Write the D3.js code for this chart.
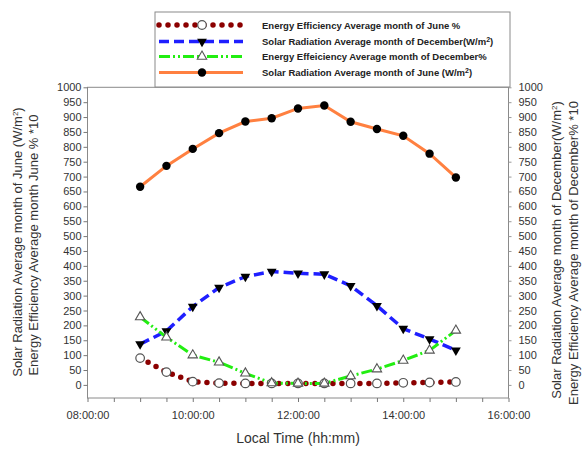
<!DOCTYPE html>
<html>
<head>
<meta charset="utf-8">
<script src="https://cdn.jsdelivr.net/npm/d3@7"></script>
<style>
  body { margin: 0; background: #fff; }
  svg { font-family: "Liberation Sans", Arial, sans-serif; }
</style>
</head>
<body>
<svg id="chart" width="582" height="450"></svg>
<script>
// sample times (hours)
var times = ["09:00", "09:30", "10:00", "10:30", "11:00", "11:30", "12:00",
             "12:30", "13:00", "13:30", "14:00", "14:30", "15:00"];
var effJune = [90, 43, 11, 6, 5, 5, 5, 5, 5, 5, 7, 8, 10];
var radDec = [137, 181, 263, 327, 364, 381, 375, 372, 333, 266, 189, 154, 116];
var effDec = [228, 160, 100, 76, 39, 6, 5, 5, 30, 53, 82, 116, 183];
var radJune = [666, 736, 793, 846, 885, 896, 929, 939, 884, 860, 837, 777, 697];
var yTicks = d3.range(0, 1001, 50);
var xMajor = [8, 10, 12, 14, 16];

var svg = d3.select('#chart');
var hours = times.map(function (t) { var p = t.split(':'); return +p[0] + p[1] / 60; });

var x = d3.scaleLinear().domain([8, 16]).range([87.5, 508.5]);
var y = d3.scaleLinear().domain([-44, 1000]).range([398, 87.3]);

var fmt = function (h) { return (h < 10 ? '0' : '') + h + ':00:00'; };

// frame
svg.append('rect')
    .attr('x', x(8)).attr('y', y(1000))
    .attr('width', x(16) - x(8)).attr('height', y(-44) - y(1000))
    .attr('fill', 'none').attr('stroke', '#8a8a8a').attr('stroke-width', 1);

// x axis: minor ticks every 30 min, labels every 2 h
var xAxis = svg.append('g').attr('transform', 'translate(0,' + y(-44) + ')');
xAxis.call(d3.axisBottom(x).tickValues(d3.range(8, 16.01, 0.5)).tickSize(4)
    .tickFormat(function (d) { return xMajor.indexOf(d) >= 0 ? fmt(d) : ''; }));
xAxis.select('.domain').remove();
xAxis.selectAll('line').attr('stroke', '#777');
xAxis.selectAll('text').attr('font-size', 11).attr('fill', '#333').attr('dy', '1.25em')
    .attr('font-family', '"Liberation Sans", Arial, sans-serif');

// left axis
var yl = svg.append('g').attr('transform', 'translate(' + x(8) + ',0)');
yl.call(d3.axisLeft(y).tickValues(yTicks).tickSize(4).tickPadding(2).tickFormat(d3.format('d')));
yl.select('.domain').remove();
yl.selectAll('line').attr('stroke', '#777');
yl.selectAll('text').attr('font-size', 11).attr('fill', '#333')
    .attr('font-family', '"Liberation Sans", Arial, sans-serif');

// right axis
var yr = svg.append('g').attr('transform', 'translate(' + x(16) + ',0)');
yr.call(d3.axisRight(y).tickValues(yTicks).tickSize(3).tickPadding(7).tickFormat(d3.format('d')));
yr.select('.domain').remove();
yr.selectAll('line').attr('stroke', '#999');
yr.selectAll('text').attr('font-size', 11).attr('fill', '#333')
    .attr('font-family', '"Liberation Sans", Arial, sans-serif');

// axis titles
svg.append('text')
    .attr('x', x(12)).attr('y', 443)
    .attr('text-anchor', 'middle').attr('font-size', 14).attr('fill', '#333')
    .text('Local Time (hh:mm)');

function vTitle(cx, cy, parts) {
    var t = svg.append('text')
        .attr('transform', 'translate(' + cx + ',' + cy + ') rotate(-90)')
        .attr('text-anchor', 'middle').attr('font-size', 13).attr('fill', '#333');
    parts.forEach(function (p) {
        var s = t.append('tspan').text(p[0]);
        if (p[1]) s.attr('baseline-shift', 'super').attr('font-size', 8);
    });
}
vTitle(22, 242, [['Solar Radiation Average month of June (W/m'], ['2', true], [')']]);
vTitle(38, 245, [['Energy Efficiency Average month June % *10']]);
vTitle(561, 250, [['Solar Radiation Average month of December(W/m'], ['2', true], [')']]);
vTitle(578, 253, [['Energy Efficiency Average month of December% *10']]);

// series
var series = [
    { name: 'Energy Efficiency Average month of June %', values: effJune,
      color: '#8b0000', width: 5.5, dash: '0,9', cap: 'round', marker: 'circleOpen' },
    { name: 'Solar Radiation Average month of December(W/m', sup: '2', after: ')', values: radDec,
      color: '#1f1fff', width: 3.5, dash: '10,5', cap: 'butt', marker: 'triDown' },
    { name: 'Energy Effeiciency Average month of December%', values: effDec,
      color: '#22ee11', width: 3, dash: '11,3,2,3,2,3', cap: 'butt', marker: 'triUp' },
    { name: 'Solar Radiation Average month of June (W/m', sup: '2', after: ')', values: radJune,
      color: '#ff8040', width: 3, dash: null, cap: 'butt', marker: 'circleFill' }
];

var line = d3.line()
    .x(function (d) { return x(d.h); })
    .y(function (d) { return y(d.v); });

function drawMarker(g, type, px, py) {
    if (type === 'circleOpen') {
        g.append('circle').attr('cx', px).attr('cy', py).attr('r', 4.3)
            .attr('fill', '#fff').attr('stroke', '#555').attr('stroke-width', 1.2);
    } else if (type === 'circleFill') {
        g.append('circle').attr('cx', px).attr('cy', py).attr('r', 4.2).attr('fill', '#000');
    } else if (type === 'triDown') {
        g.append('path').attr('transform', 'translate(' + px + ',' + py + ') rotate(180)')
            .attr('d', d3.symbol(d3.symbolTriangle, 42)()).attr('fill', '#000');
    } else if (type === 'triUp') {
        g.append('path').attr('transform', 'translate(' + px + ',' + py + ')')
            .attr('d', d3.symbol(d3.symbolTriangle, 38)())
            .attr('fill', '#fff').attr('stroke', '#555').attr('stroke-width', 1.1);
    }
}

var plot = svg.append('g');
series.forEach(function (s) {
    var pts = s.values.map(function (v, i) { return { h: hours[i], v: v }; });
    plot.append('path').datum(pts)
        .attr('d', line)
        .attr('fill', 'none')
        .attr('stroke', s.color)
        .attr('stroke-width', s.width)
        .attr('stroke-linecap', s.cap)
        .attr('stroke-dasharray', s.dash);
});
series.forEach(function (s) {
    var g = plot.append('g');
    s.values.forEach(function (v, i) { drawMarker(g, s.marker, x(hours[i]), y(v)); });
});

// legend
var legend = svg.append('g');
legend.append('rect')
    .attr('x', 155).attr('y', 12).attr('width', 355).attr('height', 75)
    .attr('fill', '#fff').attr('stroke', '#8a8a8a');
var rowsY = [25, 41.5, 56.5, 72.5];
series.forEach(function (s, i) {
    var ly = rowsY[i];
    legend.append('line')
        .attr('x1', 159).attr('x2', 243).attr('y1', ly).attr('y2', ly)
        .attr('stroke', s.color).attr('stroke-width', s.width)
        .attr('stroke-linecap', s.cap).attr('stroke-dasharray', s.dash);
    drawMarker(legend, s.marker, 202, ly);
    var t = legend.append('text')
        .attr('x', 262).attr('y', ly + 3.5)
        .attr('font-size', 9.5).attr('font-weight', 'bold').attr('fill', '#222');
    t.append('tspan').text(s.name);
    if (s.sup) {
        t.append('tspan').attr('baseline-shift', 'super').attr('font-size', 7).text(s.sup);
        t.append('tspan').text(s.after);
    }
});
</script>
</body>
</html>
